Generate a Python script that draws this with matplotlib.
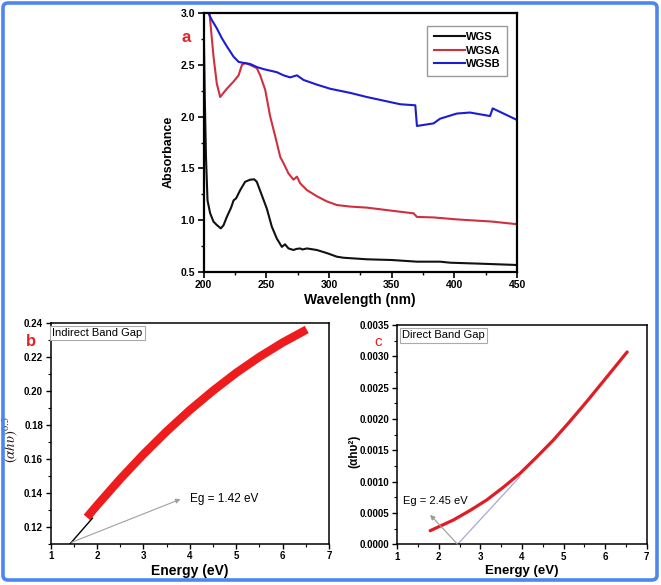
import matplotlib
matplotlib.use("Agg")
import matplotlib.pyplot as plt
from matplotlib.patches import FancyBboxPatch
from matplotlib.ticker import MultipleLocator, FormatStrFormatter

# ---------------- data ----------------
wgs_wl = [200, 201, 202, 203.2, 205.3, 208, 210.6, 213.8, 216, 218.6, 222, 224, 226, 229.3,
          233.2, 237.2, 240.4, 242.5, 246.5, 250.5, 254.5, 258.5, 262.5, 265, 267.8, 271.8,
          274, 277, 279, 282.4, 290.4, 298.4, 306.4, 311.7, 330.3, 350.3, 370.2, 388.6,
          396.8, 420, 449.7]
wgs_abs = [3.0, 2.2, 1.6, 1.19, 1.065, 0.984, 0.952, 0.919, 0.95, 1.03, 1.12, 1.19, 1.21, 1.29,
           1.37, 1.39, 1.394, 1.37, 1.24, 1.11, 0.935, 0.82, 0.74, 0.765, 0.725, 0.71,
           0.72, 0.725, 0.715, 0.725, 0.71, 0.68, 0.645, 0.635, 0.62, 0.613, 0.597, 0.597,
           0.587, 0.578, 0.565]

wgsa_wl = [204.8, 208, 210.6, 213.3, 218.6, 224, 228, 230.6, 233.2, 237.2, 242.5, 245.2,
           249.2, 253.2, 257.2, 261.2, 263.8, 267.8, 271.8, 274.5, 277.1, 282.4, 290.4,
           298.4, 306.4, 317, 330.3, 343.6, 356.9, 367.5, 370.2, 383.5, 402, 430, 449.7]
wgsa_abs = [3.0, 2.58, 2.32, 2.19, 2.27, 2.34, 2.40, 2.50, 2.52, 2.50, 2.47, 2.40,
            2.26, 2.0, 1.81, 1.61, 1.55, 1.45, 1.39, 1.42, 1.355, 1.29, 1.23,
            1.18, 1.145, 1.13, 1.12, 1.10, 1.08, 1.065, 1.03, 1.025, 1.006, 0.985, 0.96]

wgsb_wl = [204, 206.6, 210.6, 214.6, 218.6, 224, 228, 231.9, 237.2, 242.5, 247.9, 253.2,
           258.5, 263.8, 269.1, 274.5, 279.8, 290.4, 301, 317, 330.3, 343.6, 356.9, 368.9,
           370.2, 383.5, 388.6, 402, 412.5, 428.5, 430.6, 449.7]
wgsb_abs = [3.0, 2.935, 2.855, 2.76, 2.68, 2.58, 2.53, 2.52, 2.51, 2.48, 2.46, 2.445,
            2.43, 2.40, 2.38, 2.40, 2.355, 2.31, 2.27, 2.23, 2.19, 2.155, 2.12, 2.11,
            1.91, 1.935, 1.98, 2.03, 2.04, 2.006, 2.08, 1.97]

ind_E = [1.78, 2.0, 2.5, 3.0, 3.5, 4.0, 4.5, 5.0, 5.5, 6.0, 6.52]
ind_val = [0.1255, 0.1326, 0.1481, 0.1626, 0.1761, 0.1886, 0.2000, 0.2105, 0.2199, 0.2283, 0.2360]

dir_E = [1.79, 2.35, 2.75, 3.15, 3.55, 3.95, 4.35, 4.75, 5.15, 5.56, 6.04, 6.53]
dir_val = [0.000217, 0.000388, 0.00054, 0.000707, 0.00091, 0.00113, 0.00139, 0.00166,
           0.00196, 0.00228, 0.00267, 0.00307]

ind_gap = 1.42
dir_gap = 2.45

# ---------------- figure ----------------
plt.rcParams['font.family'] = ['Liberation Sans', 'DejaVu Sans']
plt.rcParams['mathtext.fontset'] = 'stix'

fig = plt.figure(figsize=(6.61, 5.85), dpi=100)
W, H = 661.0, 585.0

def ax_px(l, t, r, b):
    return fig.add_axes([l / W, 1 - b / H, (r - l) / W, (b - t) / H])

border = FancyBboxPatch((3 / W, 5 / H), 654 / W, 577 / H,
                        boxstyle="round,pad=0,rounding_size=0.008",
                        transform=fig.transFigure, ec='#4d86ee', fc='none', lw=2.6)
fig.patches.append(border)

# ---- panel a ----
axa = ax_px(203.5, 13.3, 517, 271.7)
axa.plot(wgs_wl, wgs_abs, color='#111111', lw=1.5, label='WGS')
axa.plot(wgsa_wl, wgsa_abs, color='#cf2f3f', lw=1.5, label='WGSA')
axa.plot(wgsb_wl, wgsb_abs, color='#1c1cd2', lw=1.5, label='WGSB')
axa.set_xlim(200, 450)
axa.set_ylim(0.5, 3.0)
axa.xaxis.set_major_locator(MultipleLocator(50))
axa.xaxis.set_minor_locator(MultipleLocator(25))
axa.yaxis.set_major_locator(MultipleLocator(0.5))
axa.yaxis.set_minor_locator(MultipleLocator(0.25))
axa.yaxis.set_major_formatter(FormatStrFormatter('%.1f'))
axa.tick_params(which='major', length=4, width=1.2, direction='out', pad=2)
axa.tick_params(which='minor', length=2, width=1.0, direction='out')
for lab in axa.get_xticklabels() + axa.get_yticklabels():
    lab.set_fontsize(7.5); lab.set_fontweight('bold')
for s in axa.spines.values():
    s.set_linewidth(1.6)
axa.set_xlabel('Wavelength (nm)', fontsize=10, fontweight='bold', labelpad=2)
axa.set_ylabel('Absorbance', fontsize=9, fontweight='bold')
axa.yaxis.set_label_coords(-0.091, 0.463)
leg = axa.legend(loc='upper right', bbox_to_anchor=(0.987, 0.974),
                 prop={'weight': 'bold', 'size': 8}, handlelength=2.8, handletextpad=0.1,
                 labelspacing=0.3, borderpad=0.6, fancybox=False, framealpha=1,
                 edgecolor='#999999')
leg.get_frame().set_linewidth(1.0)
fig.text(186 / W, 1 - 38 / H, 'a', color='#e02424', fontsize=12, fontweight='bold',
         ha='center', va='center')

# ---- panel b ----
axb = ax_px(50.7, 322.7, 329, 543.7)
axb.plot(ind_E, ind_val, color='#ee1c1c', lw=6, solid_capstyle='butt')
axb.plot([ind_gap, 1.9], [0.11, 0.125], color='black', lw=1.0)
axb.annotate('', xy=(3.8, 0.1362), xytext=(ind_gap + 0.03, 0.1108),
             arrowprops=dict(arrowstyle='-|>', color='#a0a0a0', lw=0.8,
                             mutation_scale=7, shrinkA=0, shrinkB=0))
axb.text(4.0, 0.1364, 'Eg = 1.42 eV', fontsize=8.5, ha='left', va='center')
axb.set_xlim(1, 7)
axb.set_ylim(0.11, 0.24)
axb.xaxis.set_major_locator(MultipleLocator(1))
axb.xaxis.set_minor_locator(MultipleLocator(0.5))
axb.set_yticks([0.12, 0.14, 0.16, 0.18, 0.20, 0.22, 0.24])
axb.yaxis.set_minor_locator(MultipleLocator(0.01))
axb.yaxis.set_major_formatter(FormatStrFormatter('%.2f'))
axb.tick_params(which='major', length=3.5, width=1.0, direction='out', pad=2)
axb.tick_params(which='minor', length=2, width=0.8, direction='out')
for lab in axb.get_xticklabels() + axb.get_yticklabels():
    lab.set_fontsize(7); lab.set_fontweight('bold')
for s in axb.spines.values():
    s.set_linewidth(1.1)
axb.set_xlabel('Energy (eV)', fontsize=10, fontweight='bold', labelpad=2)
axb.set_ylabel(r'$(\alpha h\upsilon)^{0.5}$', fontsize=10.5, color='#2a1a1a')
axb.yaxis.set_label_coords(-0.112, 0.47)
axb.text(0.005, 0.975, 'Indirect Band Gap', transform=axb.transAxes, fontsize=8,
         ha='left', va='top',
         bbox=dict(boxstyle='square,pad=0.2', fc='white', ec='#aaaaaa', lw=0.8))
fig.text(31 / W, 1 - 341 / H, 'b', color='#e02424', fontsize=12, fontweight='bold',
         ha='center', va='center')

# ---- panel c ----
axc = ax_px(397.3, 325, 646.7, 544.3)
axc.plot(dir_E, dir_val, color='#e01c24', lw=2.3, solid_capstyle='round')
axc.plot([dir_gap, 3.95], [0.0, 0.00108], color='#a8a8d2', lw=0.9)
axc.annotate('', xy=(1.79, 0.00047), xytext=(dir_gap, 0.0),
             arrowprops=dict(arrowstyle='-|>', color='#9a9a9a', lw=0.8,
                             mutation_scale=7, shrinkA=0, shrinkB=0))
axc.text(1.13, 0.00069, 'Eg = 2.45 eV', fontsize=8, ha='left', va='center')
axc.set_xlim(1, 7)
axc.set_ylim(0, 0.0035)
axc.xaxis.set_major_locator(MultipleLocator(1))
axc.xaxis.set_minor_locator(MultipleLocator(0.5))
axc.yaxis.set_major_locator(MultipleLocator(0.0005))
axc.yaxis.set_minor_locator(MultipleLocator(0.00025))
axc.yaxis.set_major_formatter(FormatStrFormatter('%.4f'))
axc.tick_params(which='major', length=3.5, width=1.0, direction='out', pad=2)
axc.tick_params(which='minor', length=2, width=0.8, direction='out')
for lab in axc.get_xticklabels() + axc.get_yticklabels():
    lab.set_fontsize(7); lab.set_fontweight('bold')
for s in axc.spines.values():
    s.set_linewidth(1.1)
axc.set_xlabel('Energy (eV)', fontsize=9.5, fontweight='bold', labelpad=2)
axc.set_ylabel('(αhυ²)', fontsize=8.5, fontweight='bold')
axc.yaxis.set_label_coords(-0.15, 0.425)
axc.text(0.02, 0.975, 'Direct Band Gap', transform=axc.transAxes, fontsize=8,
         ha='left', va='top',
         bbox=dict(boxstyle='square,pad=0.2', fc='white', ec='#aaaaaa', lw=0.8))
fig.text(378 / W, 1 - 342 / H, 'c', color='#e02424', fontsize=11,
         ha='center', va='center')

fig.savefig('out.png', dpi=100)
